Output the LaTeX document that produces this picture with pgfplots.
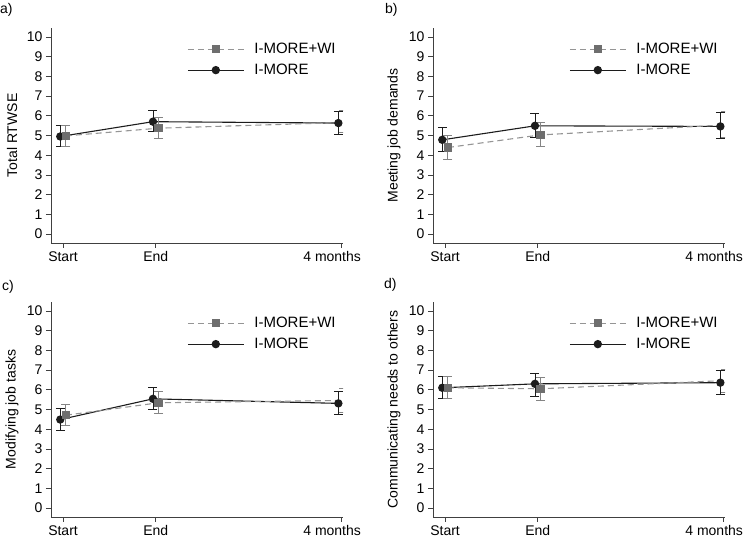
\documentclass[border=0pt]{standalone}
\usepackage{pgfplots}
\usepackage{pgfplotstable}
\pgfplotsset{compat=1.18}
\usepackage{fontspec}
\setmainfont{Liberation Sans}

\definecolor{wiline}{HTML}{959595}
\definecolor{wimark}{HTML}{6E6E6E}
\definecolor{imore}{HTML}{1C1C1C}

% x, mean, lower, upper (I-MORE drawn a little left, I-MORE+WI a little right)
\pgfplotstableread{
x y lo hi
-0.03 4.95 4.45 5.50
0.97 5.70 5.20 6.25
2.97 5.63 5.07 6.20
}\aI
\pgfplotstableread{
x y lo hi
0.03 4.98 4.45 5.50
1.03 5.37 4.85 5.90
3.03 5.66 5.15 6.25
}\aW
\pgfplotstableread{
x y lo hi
-0.03 4.78 4.20 5.40
0.97 5.49 4.88 6.12
2.97 5.46 4.85 6.15
}\bI
\pgfplotstableread{
x y lo hi
0.03 4.39 3.78 5.00
1.03 5.03 4.45 5.65
3.03 5.54 4.90 6.20
}\bW
\pgfplotstableread{
x y lo hi
-0.03 4.49 3.95 5.07
0.97 5.54 4.98 6.12
2.97 5.31 4.73 5.92
}\cI
\pgfplotstableread{
x y lo hi
0.03 4.71 4.18 5.28
1.03 5.34 4.78 5.93
3.03 5.46 4.85 6.05
}\cW
\pgfplotstableread{
x y lo hi
-0.03 6.10 5.55 6.68
0.97 6.30 5.68 6.85
2.97 6.36 5.78 7.00
}\dI
\pgfplotstableread{
x y lo hi
0.03 6.10 5.55 6.70
1.03 6.05 5.45 6.62
3.03 6.47 5.85 7.05
}\dW

\pgfplotsset{
  panel/.style={
    scale only axis, width=292pt, height=215pt,
    xmin=-0.13, xmax=3.02, ymin=-0.45, ymax=10.45,
    axis x line=bottom, axis y line=left,
    axis line style={-, line width=0.6pt, black!75},
    xtick={0,1,3}, xticklabels={Start,End,\hspace*{-18pt}4 months},
    ytick={0,1,...,10},
    tick align=outside, major tick length=5pt,
    tick style={line width=0.6pt, black!75},
    /pgf/number format/assume math mode=true,
    ticklabel style={font=\fontsize{14}{16}\selectfont},
    every axis y label/.style={at={([xshift=-39pt]axis description cs:0,0.5)},
      rotate=90, anchor=center, font=\fontsize{14}{16}\selectfont},
    reverse legend,
    legend style={at={(0.466,0.935)}, anchor=north west, draw=none, fill=none,
      inner sep=0pt, row sep=7pt, font=\fontsize{15}{17}\selectfont,
      nodes={inner sep=1pt}, /tikz/every odd column/.append style={column sep=9pt}},
    legend cell align=left,
    legend image code/.code={\draw[mark repeat=2,mark phase=2]
      plot coordinates {(0pt,0pt) (28pt,0pt) (56pt,0pt)};},
  },
  grpI/.style={imore, line width=1.1pt, mark=*, mark size=3.6pt,
    mark options={solid, fill=imore, draw=imore},
    error bars/.cd, y dir=both, y explicit,
    error bar style={solid, line width=0.8pt, imore},
    error mark options={rotate=90, mark size=4.5pt, line width=0.8pt, imore}},
  grpW/.style={wiline, dashed, dash pattern=on 6pt off 4pt, line width=1.1pt,
    mark=square*, mark size=3.5pt,
    mark options={solid, fill=wimark, draw=wimark},
    error bars/.cd, y dir=both, y explicit,
    error bar style={solid, line width=0.8pt, wimark!85},
    error mark options={rotate=90, mark size=4.5pt, line width=0.8pt, wimark!85}},
}

\newcommand{\panelplots}[2]{%
  \addplot[grpI] table[x=x, y=y, y error plus expr=\thisrow{hi}-\thisrow{y},
    y error minus expr=\thisrow{y}-\thisrow{lo}] {#1};
  \addlegendentry{I-MORE}
  \addplot[grpW] table[x=x, y=y, y error plus expr=\thisrow{hi}-\thisrow{y},
    y error minus expr=\thisrow{y}-\thisrow{lo}] {#2};
  \addlegendentry{I-MORE+WI}
}

\begin{document}
\begin{tikzpicture}[x=1pt,y=1pt]
\useasboundingbox (0,0) rectangle (745,540);

\begin{axis}[panel, at={(51pt,297pt)}, anchor=south west, ylabel={Total RTWSE}]
\panelplots{\aI}{\aW}
\end{axis}

\begin{axis}[panel, at={(433pt,297pt)}, anchor=south west, ylabel={Meeting job demands}]
\panelplots{\bI}{\bW}
\end{axis}

\begin{axis}[panel, at={(51pt,23pt)}, anchor=south west, ylabel={Modifying job tasks}]
\panelplots{\cI}{\cW}
\end{axis}

\begin{axis}[panel, at={(433pt,23pt)}, anchor=south west, ylabel={Communicating needs to others}]
\panelplots{\dI}{\dW}
\end{axis}

\node[anchor=west, inner sep=0pt, font=\fontsize{14}{16}\selectfont] at (0,530) {a)};
\node[anchor=west, inner sep=0pt, font=\fontsize{14}{16}\selectfont] at (385,530) {b)};
\node[anchor=west, inner sep=0pt, font=\fontsize{14}{16}\selectfont] at (2,253) {c)};
\node[anchor=west, inner sep=0pt, font=\fontsize{14}{16}\selectfont] at (384,255) {d)};
\end{tikzpicture}
\end{document}
